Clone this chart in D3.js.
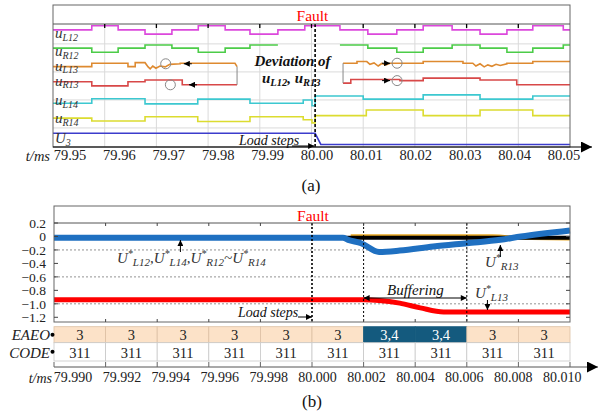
<!DOCTYPE html>
<meta charset="utf-8">
<script src="https://cdn.jsdelivr.net/npm/d3@7"></script>
<style>
  body { margin: 0; background: #fff; }
  svg, text, tspan { font-family: "Liberation Serif", "Times New Roman", Times, "DejaVu Serif", serif; }
</style>
<body>
<svg width="611" height="415"></svg>
<script>
// ---------- panel (a) data ----------
var aTicks = [79.95, 79.96, 79.97, 79.98, 79.99, 80.00, 80.01, 80.02, 80.03, 80.04, 80.05];
var aGrid = [0, 1, 2, 3];
var faultA = 80.0007;

var uL12T = [79.9500, 79.9575, 79.9626, 79.9678, 79.9730, 79.9781, 79.9833, 79.9881, 79.9935, 79.9987,
             80.0055, 80.0109, 80.0165, 80.0216, 80.0272, 80.0326, 80.0378, 80.0428, 80.0487, 80.0500];
var uL12V = [3.50, 3.65, 3.50, 3.35, 3.50, 3.65, 3.50, 3.35, 3.50, 3.65,
             3.50, 3.35, 3.50, 3.65, 3.50, 3.35, 3.50, 3.65, 3.50];

var uR12T = [79.9500, 79.9575, 79.9626, 79.9678, 79.9730, 79.9781, 79.9833, 79.9881, 79.9935,
             80.0055, 80.0109, 80.0165, 80.0216, 80.0272, 80.0326, 80.0378, 80.0428, 80.0487, 80.0500];
var uR12V = [2.85, 2.70, 2.85, 2.96, 2.85, 2.70, 2.85, 2.96, null,
             2.96, 2.85, 2.70, 2.85, 2.96, 2.85, 2.70, 2.85, 2.96];

var uL13T = [79.9500, 79.9575, 79.9575, 79.9645, 79.9645, 79.9659, 79.9659, 79.9678, 79.9684, 79.9688,
             79.9693, 79.9699, 79.9707, 79.9717, 79.9726, 79.9746, 79.9746, 79.9852, 79.9856, null,
             80.0061, 80.0088, 80.0088, 80.0107, 80.0113, 80.0121, 80.0129, 80.0136, 80.0144, 80.0152,
             80.0216, 80.0216, 80.0293, 80.0293, 80.0312, 80.0318, 80.0326, 80.0334, 80.0341, 80.0349,
             80.0357, 80.0365, 80.0378, 80.0378, 80.0428, 80.0428, 80.0500];
var uL13V = [2.19, 2.19, 2.31, 2.31, 2.19, 2.19, 2.33, 2.33, 2.18, 2.11,
             2.21, 2.13, 2.21, 2.18, 2.27, 2.29, 2.31, 2.31, 2.19, null,
             2.31, 2.31, 2.37, 2.37, 2.27, 2.32, 2.21, 2.30, 2.25, 2.31,
             2.31, 2.37, 2.37, 2.31, 2.31, 2.21, 2.29, 2.18, 2.25, 2.20,
             2.27, 2.23, 2.29, 2.31, 2.31, 2.37, 2.37];

var uR13T = [79.9500, 79.9575, 79.9645, 79.9678, 79.9750, 79.9856,
             80.0061, 80.0076, 80.0171, 80.0216, 80.0326, 80.0397, 80.0500];
var uR13V = [1.65, 1.50, 1.65, 1.71, 1.54, null, 1.60, 1.73, 1.69, 1.78, 1.71, 1.54];

var uL14T = [79.9500, 79.9575, 79.9678, 79.9780, 79.9881, 79.9984, 80.0001, 80.0007,
             80.0100, 80.0216, 80.0326, 80.0428, 80.0500];
var uL14V = [0.88, 1.04, 0.86, 1.03, 0.88, 1.00, 0.79, 1.14, 1.03, 1.18, 1.03, 1.14];

var uR14T = [79.9500, 79.9575, 79.9678, 79.9780, 79.9881, 79.9984, 80.0001, 80.0007,
             80.0106, 80.0216, 80.0326, 80.0428, 80.0500];
var uR14V = [0.35, 0.25, 0.40, 0.23, 0.40, 0.29, 0.18, 0.44, 0.64, 0.44, 0.64, 0.44];

var u3T = [79.9500, 80.0007, 80.0018, 80.0500];
var u3V = [-0.19, -0.19, -0.59, -0.59];

// ---------- panel (b) data ----------
var bTicks = [79.990, 79.992, 79.994, 79.996, 79.998, 80.000, 80.002, 80.004, 80.006, 80.008, 80.010];
var bYTicks = [0.2, 0, -0.2, -0.4, -0.6, -0.8, -1.0, -1.2];
var bGrid = [-0.2, -0.6, -1.0];
var bMarks = [80.000, 80.002, 80.006];

var othersT = [79.990, 80.0012, 80.0014, 80.0019, 80.0026, 80.0034, 80.0047, 80.0060, 80.0073, 80.0081, 80.0100];
var othersV = [-0.02, -0.02, -0.05, -0.10, -0.23, -0.21, -0.15, -0.10, -0.05, 0.00, 0.09];
var blackT = [79.990, 80.0100];
var blackV = [-0.02, -0.02];
var orangeT = [80.0015, 80.0070, 80.0085, 80.0100];
var orangeV = [0.015, 0.015, -0.035, -0.04];
var l13T = [79.990, 80.0020, 80.0026, 80.0034, 80.0042, 80.0051, 80.0100];
var l13V = [-0.94, -0.94, -0.95, -0.99, -1.06, -1.12, -1.12];

var eaeo = ["3", "3", "3", "3", "3", "3", "3,4", "3,4", "3", "3"];
var code = ["311", "311", "311", "311", "311", "311", "311", "311", "311", "311"];

// ---------- helpers ----------
var svg = d3.select("svg");
var defs = svg.append("defs");
defs.append("marker").attr("id", "ah").attr("viewBox", "0 0 10 10")
    .attr("refX", 10).attr("refY", 5).attr("markerWidth", 7).attr("markerHeight", 6)
    .attr("markerUnits", "userSpaceOnUse").attr("orient", "auto-start-reverse")
    .append("path").attr("d", "M0,0L10,5L0,10z").attr("fill", "#000");
defs.append("marker").attr("id", "big").attr("viewBox", "0 0 10 10")
    .attr("refX", 10).attr("refY", 5).attr("markerWidth", 13).attr("markerHeight", 11)
    .attr("markerUnits", "userSpaceOnUse").attr("orient", "auto")
    .append("path").attr("d", "M0,0L10,5L0,10z").attr("fill", "#000");

function steps(T, V) {
  var pts = [];
  for (var i = 0; i < V.length; i++) {
    if (V[i] == null) { pts.push(null); continue; }
    pts.push([T[i], V[i]], [T[i + 1], V[i]]);
  }
  return pts;
}
function pairs(T, V) {
  return T.map(function(t, i) { return t == null ? null : [t, V[i]]; });
}
function rich(g, x, y, parts) {
  var t = g.append("text").attr("x", x).attr("y", y);
  var cur = 0;
  parts.forEach(function(p) {
    t.append("tspan").attr("font-size", p[1]).attr("dy", p[2] - cur).text(p[0]);
    cur = p[2];
  });
  return t;
}

// ================= panel (a) =================
var xA = d3.scaleLinear().domain([79.95, 80.05]).range([53, 570]);
var yA = d3.scaleLinear().domain([-0.68, 3.71]).range([147, 24]);
var xLabA = d3.scaleLinear().domain([79.95, 80.05]).range([69.5, 563.5]);
var ga = svg.append("g");

ga.selectAll(".vg").data(aTicks.slice(1, -1)).enter().append("line")
  .attr("x1", xA).attr("x2", xA).attr("y1", 24).attr("y2", 147)
  .attr("stroke", "#dadada").attr("stroke-width", 1);
ga.selectAll(".hg").data(aGrid).enter().append("line")
  .attr("x1", 53).attr("x2", 570).attr("y1", yA).attr("y2", yA)
  .attr("stroke", "#dadada").attr("stroke-width", 1);

var lineA = d3.line().defined(function(d) { return d != null; })
  .x(function(d) { return xA(d[0]); }).y(function(d) { return yA(d[1]); });

var tracesA = [
  {pts: steps(uL12T, uL12V), c: "#dc48dc"},
  {pts: steps(uR12T, uR12V), c: "#4ccc48"},
  {pts: pairs(uL13T, uL13V), c: "#de8a30"},
  {pts: steps(uR13T, uR13V), c: "#d84848"},
  {pts: steps(uL14T, uL14V), c: "#3cc8d0"},
  {pts: steps(uR14T, uR14V), c: "#dcdc30"},
  {pts: pairs(u3T, u3V), c: "#3c3ccc"}
];
tracesA.forEach(function(s) {
  ga.append("path").attr("d", lineA(s.pts)).attr("fill", "none")
    .attr("stroke", s.c).attr("stroke-width", 1.6);
});

// deviation brackets
var gray = "#888";
[[79.9856, 2.19, 1.54], [80.0061, 2.31, 1.60]].forEach(function(b) {
  ga.append("line").attr("x1", xA(b[0])).attr("x2", xA(b[0]))
    .attr("y1", yA(b[1])).attr("y2", yA(b[2])).attr("stroke", gray).attr("stroke-width", 1);
});
[[79.9753, 2.29, 79.9718], [79.9763, 1.54, 79.9727]].forEach(function(a) {
  ga.append("line").attr("x1", xA(a[0]) + 8).attr("x2", xA(a[0])).attr("y1", yA(a[1])).attr("y2", yA(a[1]))
    .attr("stroke", "#000").attr("stroke-width", 1).attr("marker-end", "url(#ah)");
  ga.append("circle").attr("cx", xA(a[2])).attr("cy", yA(a[1])).attr("r", 5)
    .attr("fill", "none").attr("stroke", gray);
});
[[80.0152, 2.31], [80.0152, 1.69]].forEach(function(a) {
  ga.append("line").attr("x1", xA(a[0]) - 8).attr("x2", xA(a[0])).attr("y1", yA(a[1])).attr("y2", yA(a[1]))
    .attr("stroke", "#000").attr("stroke-width", 1).attr("marker-end", "url(#ah)");
  ga.append("circle").attr("cx", xA(a[0]) + 7).attr("cy", yA(a[1])).attr("r", 5)
    .attr("fill", "none").attr("stroke", gray);
});

// fault line
ga.append("line").attr("x1", xA(faultA)).attr("x2", xA(faultA)).attr("y1", 24).attr("y2", 147)
  .attr("stroke", "#000").attr("stroke-width", 1.6).attr("stroke-dasharray", "3,2");

// frame
ga.append("rect").attr("x", 53).attr("y", 5).attr("width", 517).attr("height", 142)
  .attr("fill", "none").attr("stroke", "#666").attr("stroke-width", 1);
ga.append("line").attr("x1", 53).attr("x2", 570).attr("y1", 24).attr("y2", 24)
  .attr("stroke", "#555").attr("stroke-width", 1);
ga.selectAll(".tt").data(aTicks.slice(1, -1)).enter().append("line")
  .attr("x1", xA).attr("x2", xA).attr("y1", 24).attr("y2", 28).attr("stroke", "#000").attr("stroke-width", 1.3);
ga.append("line").attr("x1", 53).attr("x2", 592).attr("y1", 147).attr("y2", 147)
  .attr("stroke", "#000").attr("stroke-width", 1.2).attr("marker-end", "url(#big)");

ga.append("text").attr("x", 312.5).attr("y", 20.5).attr("text-anchor", "middle")
  .attr("font-size", 15.5).attr("fill", "#f00").text("Fault");

// axis labels
var axA = ga.append("g").attr("transform", "translate(0,147)")
  .call(d3.axisBottom(xLabA).tickValues(aTicks).tickSize(0).tickPadding(3).tickFormat(d3.format(".2f")));
axA.select(".domain").remove();
axA.attr("font-family", null).selectAll("text").attr("font-size", 14.5).attr("fill", "#222");
ga.append("text").attr("x", 50).attr("y", 160.6).attr("text-anchor", "end")
  .attr("font-size", 14.5).attr("font-style", "italic").attr("fill", "#222").text("t/ms");

// trace labels
var labA = ga.append("g").attr("font-style", "italic").attr("fill", "#333");
[["u", "L12", 38.3], ["u", "R12", 56.2], ["u", "L13", 70.5], ["u", "R13", 85.5],
 ["u", "L14", 105], ["u", "R14", 123.3], ["U", "3", 143.3]].forEach(function(l) {
  rich(labA, 55, l[2], [[l[0], 15, 0], [l[1], 10, 2.5]]);
});

var devG = ga.append("g").attr("font-style", "italic").attr("font-weight", "bold").attr("fill", "#111");
devG.append("text").attr("x", 292.5).attr("y", 66).attr("text-anchor", "middle")
  .attr("font-size", 15).text("Deviation of");
rich(devG, 262, 83, [["u", 15, 0], ["L12", 10.5, 3], [", u", 15, 0], ["R13", 10.5, 3]]);

ga.append("text").attr("x", 239).attr("y", 145).attr("font-size", 14).attr("font-style", "italic")
  .attr("fill", "#111").text("Load steps");
ga.append("line").attr("x1", 292).attr("x2", xA(faultA) - 1).attr("y1", 146).attr("y2", 146)
  .attr("stroke", "#000").attr("stroke-width", 1).attr("marker-end", "url(#ah)");

ga.append("text").attr("x", 311).attr("y", 191).attr("text-anchor", "middle")
  .attr("font-size", 17).attr("fill", "#111").text("(a)");

// ================= panel (b) =================
var xB = d3.scaleLinear().domain([79.990, 80.010]).range([54, 570]);
var yB = d3.scaleLinear().domain([-1.27, 0.2]).range([322, 223]);
var xLabB = d3.scaleLinear().domain([79.990, 80.010]).range([72.5, 561.7]);
var gb = svg.append("g");

gb.selectAll(".hg").data(bGrid).enter().append("line")
  .attr("x1", 54).attr("x2", 570).attr("y1", yB).attr("y2", yB)
  .attr("stroke", "#777").attr("stroke-width", 0.8).attr("stroke-dasharray", "2,2");

var lineB = d3.line().x(function(d) { return xB(d[0]); }).y(function(d) { return yB(d[1]); })
  .curve(d3.curveMonotoneX);

gb.append("path").attr("d", lineB(pairs(orangeT, orangeV))).attr("fill", "none")
  .attr("stroke", "#e8a824").attr("stroke-width", 2.5);
gb.append("path").attr("d", lineB(pairs(blackT, blackV))).attr("fill", "none")
  .attr("stroke", "#000").attr("stroke-width", 4);
gb.append("path").attr("d", lineB(pairs(othersT, othersV))).attr("fill", "none")
  .attr("stroke", "#1f70c1").attr("stroke-width", 6);
gb.append("path").attr("d", lineB(pairs(l13T, l13V))).attr("fill", "none")
  .attr("stroke", "#ff0000").attr("stroke-width", 5);

gb.selectAll(".vm").data(bMarks).enter().append("line")
  .attr("x1", xB).attr("x2", xB).attr("y1", 223).attr("y2", 322)
  .attr("stroke", "#000").attr("stroke-width", function(d, i) { return i == 0 ? 1.6 : 1; })
  .attr("stroke-dasharray", "2,2");

// frame and ticks
gb.append("rect").attr("x", 54).attr("y", 206).attr("width", 516).attr("height", 116)
  .attr("fill", "none").attr("stroke", "#666").attr("stroke-width", 1);
gb.append("line").attr("x1", 54).attr("x2", 570).attr("y1", 223).attr("y2", 223)
  .attr("stroke", "#555").attr("stroke-width", 1);
var inner = bTicks.slice(1, -1);
gb.selectAll(".tt").data(inner).enter().append("line")
  .attr("x1", xB).attr("x2", xB).attr("y1", 223).attr("y2", 226).attr("stroke", "#444");
gb.selectAll(".tb").data(inner).enter().append("line")
  .attr("x1", xB).attr("x2", xB).attr("y1", 322).attr("y2", 319).attr("stroke", "#444");
gb.selectAll(".yl").data(bYTicks).enter().append("line")
  .attr("x1", 54).attr("x2", 58).attr("y1", yB).attr("y2", yB).attr("stroke", "#444");
gb.selectAll(".yr").data(bYTicks).enter().append("line")
  .attr("x1", 570).attr("x2", 566).attr("y1", yB).attr("y2", yB).attr("stroke", "#444");
gb.selectAll(".ylab").data(bYTicks).enter().append("text")
  .attr("x", 46).attr("y", yB).attr("dy", "0.35em").attr("text-anchor", "end")
  .attr("font-size", 13.5).attr("fill", "#222")
  .text(function(d) { return d == 0 ? "0" : d3.format(".1f")(d); });

gb.append("text").attr("x", 313).attr("y", 221).attr("text-anchor", "middle")
  .attr("font-size", 15.5).attr("fill", "#f00").text("Fault");

// annotations
var ann = gb.append("g").attr("font-style", "italic").attr("fill", "#333");
rich(ann, 117, 263.3, [["U", 15, 0], ["*", 10, -6], ["L12", 11, 3], [",U", 15, 0], ["*", 10, -6], ["L14", 11, 3],
  [",U", 15, 0], ["*", 10, -6], ["R12", 11, 3], ["~U", 15, 0], ["*", 10, -6], ["R14", 11, 3]]);
rich(ann, 485, 266.5, [["U", 15, 0], ["*", 10, -6], ["R13", 11, 3]]);
rich(ann, 475, 297.5, [["U", 15, 0], ["*", 10, -6], ["L13", 11, 3]]);
ann.append("text").attr("x", 387).attr("y", 295).attr("font-size", 15).attr("fill", "#111").text("Buffering");
ann.append("text").attr("x", 238).attr("y", 316.5).attr("font-size", 14).attr("fill", "#111").text("Load steps");

function arrow(x1, y1, x2, y2, both) {
  var l = gb.append("line").attr("x1", x1).attr("y1", y1).attr("x2", x2).attr("y2", y2)
    .attr("stroke", "#000").attr("stroke-width", 1).attr("marker-end", "url(#ah)");
  if (both) l.attr("marker-start", "url(#ah)");
}
arrow(xB(79.9949), 252, xB(79.9949), 240);
arrow(xB(80.0073), 257, xB(80.0073), 245);
arrow(xB(80.0068), 300, xB(80.0068), 310);
arrow(xB(80.0020), 298, xB(80.0060), 298, true);
arrow(298, 317, xB(80.000), 317);

// EAEO / CODE rows
var cells = eaeo.map(function(e, i) { return {e: e, c: code[i], t0: bTicks[i], t1: bTicks[i + 1]}; });
var rowE = gb.selectAll(".ce").data(cells).enter().append("g");
rowE.append("rect").attr("x", function(d) { return xB(d.t0); }).attr("y", 326.7)
  .attr("width", function(d) { return xB(d.t1) - xB(d.t0); }).attr("height", 16)
  .attr("fill", function(d) { return d.e.indexOf("4") >= 0 ? "#145a7e" : "#fce2c8"; })
  .attr("stroke", function(d) { return d.e.indexOf("4") >= 0 ? "#145a7e" : "#dcc0a4"; })
  .attr("stroke-width", 0.8);
rowE.append("text").attr("x", function(d) { return (xB(d.t0) + xB(d.t1)) / 2; }).attr("y", 340)
  .attr("text-anchor", "middle").attr("font-size", 14.5)
  .attr("fill", function(d) { return d.e.indexOf("4") >= 0 ? "#fff" : "#222"; })
  .text(function(d) { return d.e; });
var rowC = gb.selectAll(".cc").data(cells).enter().append("g");
rowC.append("rect").attr("x", function(d) { return xB(d.t0); }).attr("y", 342.7)
  .attr("width", function(d) { return xB(d.t1) - xB(d.t0); }).attr("height", 18.3)
  .attr("fill", "#fff").attr("stroke", "#c8c8c8").attr("stroke-width", 0.8);
rowC.append("text").attr("x", function(d) { return (xB(d.t0) + xB(d.t1)) / 2; }).attr("y", 357.5)
  .attr("text-anchor", "middle").attr("font-size", 14.5).attr("fill", "#222")
  .text(function(d) { return d.c; });

[["EAEO", 340, 334.7], ["CODE", 357.5, 351.8]].forEach(function(r) {
  gb.append("text").attr("x", 50).attr("y", r[1]).attr("text-anchor", "end")
    .attr("font-size", 15).attr("font-style", "italic").attr("fill", "#222").text(r[0]);
  gb.append("circle").attr("cx", 52.5).attr("cy", r[2]).attr("r", 2).attr("fill", "#000");
});

// bottom axis
gb.append("line").attr("x1", 54).attr("x2", 598).attr("y1", 367).attr("y2", 367)
  .attr("stroke", "#555").attr("stroke-width", 1).attr("marker-end", "url(#big)");
gb.selectAll(".bt").data(bTicks).enter().append("line")
  .attr("x1", xB).attr("x2", xB).attr("y1", 367).attr("y2", 362).attr("stroke", "#666");
var axB = gb.append("g").attr("transform", "translate(0,367)")
  .call(d3.axisBottom(xLabB).tickValues(bTicks).tickSize(0).tickPadding(5).tickFormat(d3.format(".3f")));
axB.select(".domain").remove();
axB.attr("font-family", null).selectAll("text").attr("font-size", 14).attr("fill", "#222");
gb.append("text").attr("x", 52).attr("y", 382.7).attr("text-anchor", "end")
  .attr("font-size", 14).attr("font-style", "italic").attr("fill", "#222").text("t/ms");

gb.append("text").attr("x", 312).attr("y", 407).attr("text-anchor", "middle")
  .attr("font-size", 17).attr("fill", "#111").text("(b)");
</script>
</body>
